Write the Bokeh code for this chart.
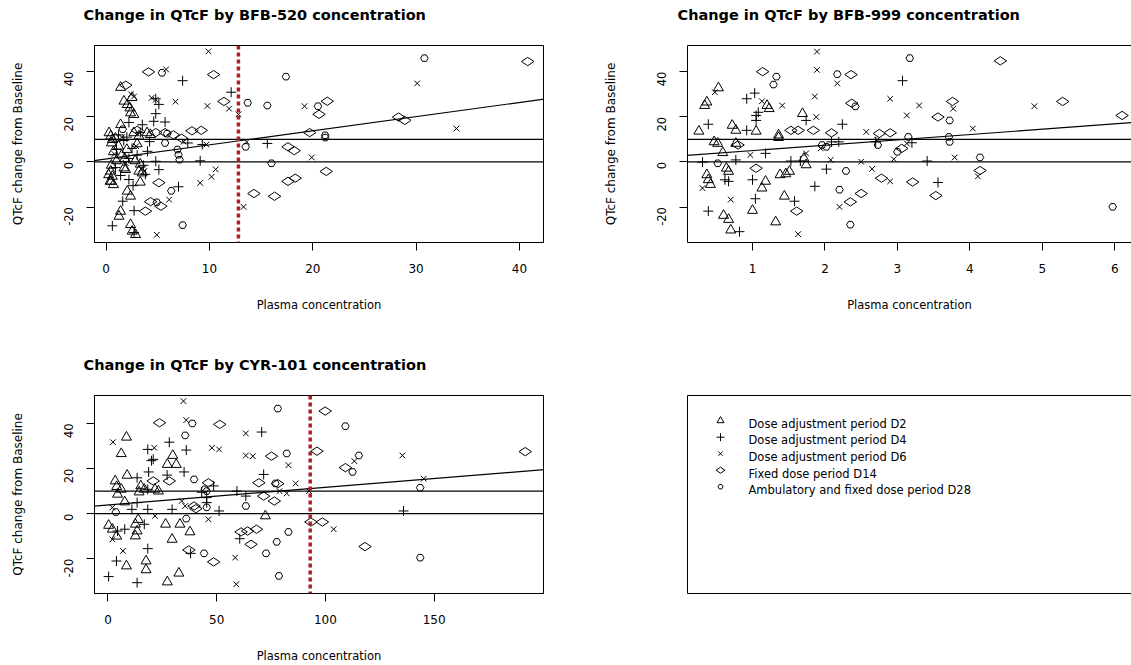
import math
from bokeh.plotting import figure
from bokeh.layouts import row, column
from bokeh.models import Span, Slope, FixedTicker, LinearAxis, Range1d
from bokeh.core.properties import value
from bokeh.embed import file_html
from bokeh.resources import INLINE

# ---------------- data ----------------
SERIES = ["Dose adjustment period D2", "Dose adjustment period D4", "Dose adjustment period D6",
          "Fixed dose period D14", "Ambulatory and fixed dose period D28"]

TITLES = ["Change in QTcF by BFB-520 concentration",
          "Change in QTcF by BFB-999 concentration",
          "Change in QTcF by CYR-101 concentration"]
X_LABEL = "Plasma concentration"
Y_LABEL = "QTcF change from Baseline"

Y_TICKS = [-20, 0, 20, 40]
BFB520_X_TICKS = [0, 10, 20, 30, 40]
BFB999_X_TICKS = [1, 2, 3, 4, 5, 6]
CYR101_X_TICKS = [0, 50, 100, 150]

REF_LINES = [0, 10]
BFB520_FIT = [1.31, 0.626]      # intercept, slope
BFB999_FIT = [2.66, 2.37]
CYR101_FIT = [3.88, 0.078]
BFB520_THRESHOLD = 12.8
CYR101_THRESHOLD = 93.0

BFB520_D2 = [(1.4, 33), (1.72, 26.9), (2.04, 25.4), (2.3, 23.9), (2.36, 21.7), (2.68, 21.0), (2.5, 28.5),
             (1.4, 16.5), (0.28, 12.9), (0.44, 11.4), (0.6, 9.9), (0.51, 8.4), (2.68, 12.9), (3.16, 11.4),
             (3.96, 12.9), (4.28, 12.1), (0.9, 10.5), (1.2, 7.0), (1.5, 3.0), (0.7, 4.5), (2.0, 5.5),
             (1.0, 0.5), (3.0, 8.0), (3.3, -1.0), (1.8, 1.5), (0.5, -1.5), (2.8, 0.5), (0.44, -4.1),
             (0.6, -6.4), (0.38, -8.6), (0.24, -5.7), (0.49, -8.6), (0.7, -10.1), (1.72, -2.7), (1.88, -3.4),
             (3.16, -4.1), (3.48, -4.9), (3.3, -9.0), (2.04, -13.0), (2.36, -15.2), (1.24, -24.1),
             (1.4, -21.9), (2.36, -27.8), (2.52, -30.7), (2.84, -32.2)]
BFB520_D4 = [(7.4, 36), (4.8, 28), (5.1, 25.5), (4.8, 21.4), (4.6, 18), (5.7, 17.7), (3.5, 16.5),
             (12.1, 30.9), (15.6, 8.2), (9.1, 0.5), (4.8, 0.3), (4.0, 4.7), (2.2, -7.8), (5.1, -3.4),
             (7.0, -11), (1.6, -17.4), (2.7, -21.6), (0.6, -28.3), (2.7, -31.3), (1.2, 12), (1.7, 9.5),
             (2.5, 6), (3.0, 3), (1.0, 5.5), (2.2, 1.5), (3.6, -1.5), (4.2, 9), (1.4, -6), (2.6, -10.5),
             (3.8, -5.5), (0.9, -2.5), (7.9, 8.4), (9.3, 7.7), (2.0, 11), (3.3, 13), (2.2, 17.5)]
BFB520_D6 = [(9.9, 49), (5.8, 41), (2.4, 30), (2.7, 29), (4.4, 28.4), (4.8, 27.6), (6.7, 26.7), (9.8, 24.8),
             (11.9, 23.6), (12.8, 21.1), (19.2, 24.7), (30.1, 34.8), (33.9, 14.8), (13.6, 8.9), (19.9, 2.0),
             (7.5, 9), (9.7, 7.7), (9.1, -9.3), (10.2, -6.6), (10.6, -3.3), (6.1, -16.7), (4.9, -32.3),
             (13.3, -19.9), (1.5, 11), (2.9, 7), (0.8, 3.5), (3.4, -3), (1.9, -0.5), (3.7, -4)]
BFB520_D14 = [(4.1, 39.9), (10.4, 38.7), (1.9, 34), (11.4, 26.8), (8.3, 13.8), (9.2, 14), (4.8, 13), (5.7, 13),
              (20.6, 21.1), (21.4, 26.9), (19.7, 13), (28.3, 19.9), (28.9, 18.4), (17.6, 6.7), (18.2, 5),
              (21.3, -4.2), (18.3, -7.2), (17.6, -8.6), (14.3, -14), (16.3, -15.2), (5.1, -9.2), (3.8, -21.8),
              (4.3, -17.6), (5.3, -19.6), (40.8, 44.5), (3.0, 14), (6.5, 12), (7.3, 10.5)]
BFB520_D28 = [(5.4, 39.5), (13.7, 26.2), (15.6, 25), (17.4, 37.8), (20.5, 24.7), (21.2, 11.8), (21.2, 10.8),
              (30.8, 46), (13.5, 6.7), (16.0, -0.6), (5.7, 8.4), (6.9, 5.5), (7.0, 3.2), (7.1, 1),
              (6.3, -12.8), (4.9, -17.9), (7.4, -28), (5.9, 12.5), (1.6, 14.5)]

BFB999_D2 = [(0.53, 32.8), (0.37, 26.5), (0.34, 25), (0.26, 13.6), (1.2, 25), (1.23, 23.6), (1.69, 21.4),
             (0.72, 16.2), (0.77, 14), (1.05, 13.6), (1.36, 11.9), (1.36, 10.8), (0.47, 8.9), (0.52, 8.2),
             (0.77, 8.2), (0.59, 4.1), (1.71, 1.6), (0.64, -2.8), (0.67, -4.2), (0.37, -5.7), (0.39, -7.9),
             (0.42, -10), (1.18, -8.6), (1.13, -11.6), (1.38, -5.7), (1.46, -5.3), (1.51, -4.2), (1.74, -1.3),
             (1.44, -15.2), (1.0, -21.5), (0.6, -23.7), (0.67, -25.5), (1.32, -26.6), (0.7, -30.2)]
BFB999_D4 = [(3.07, 36), (1.03, 30.5), (0.92, 28), (1.08, 22), (1.05, 20.6), (1.05, 18.4), (1.74, 18.4),
             (0.39, 16.7), (2.24, 16.7), (0.92, 14), (2.09, 8.9), (2.19, 8.9), (2.7, 8.9), (1.18, 3.8),
             (0.77, 0.9), (0.31, -0.1), (0.62, -7.9), (0.67, -8.6), (1.0, -7.9), (1.53, 0.4), (1.66, 0.4),
             (2.02, -3.2), (3.41, 0.4), (3.56, -9.1), (1.86, -10.8), (1.58, -17.4), (1.04, -16.3),
             (0.39, -21.8), (0.82, -30.9), (3.2, 8.5)]
BFB999_D6 = [(1.89, 48.9), (1.89, 40.8), (2.17, 34.8), (0.48, 30.9), (1.13, 26.9), (1.41, 25), (1.88, 19.9),
             (1.86, 29), (2.57, 13.3), (3.77, 23.6), (3.30, 25), (2.9, 28), (4.89, 24.7), (4.04, 14.8),
             (3.13, 20.6), (1.94, 6), (2.72, 9.8), (3.13, 8.2), (0.97, 3.1), (1.74, 3.8), (2.08, 0.9),
             (2.5, 0.1), (2.65, -3.1), (2.9, -8.6), (2.95, 1.2), (3.79, 2.0), (4.11, -6.4), (2.2, -19.9),
             (0.7, -16.7), (0.31, -11.6), (1.63, -32)]
BFB999_D14 = [(1.14, 40), (2.36, 38.7), (4.42, 44.8), (1.53, 14), (1.63, 14), (1.84, 14), (2.09, 12.9),
              (2.75, 12.6), (2.9, 12.9), (0.8, 7.5), (3.76, 26.8), (3.56, 19.9), (5.28, 26.8), (3.06, 6.0),
              (1.05, -2.8), (2.78, -7.2), (3.21, -8.9), (4.14, -3.8), (3.53, -14.9), (2.5, -14), (2.35, -17.7),
              (1.61, -21.8), (6.1, 20.6), (2.37, 26)]
BFB999_D28 = [(1.33, 37.8), (1.29, 34.3), (2.17, 38.9), (3.17, 46), (3.15, 11.1), (3.71, 11.1), (3.72, 8.9),
              (3.72, 18.4), (2.42, 24.6), (1.96, 7.5), (2.02, 6.7), (2.73, 7.5), (3.0, 4.5), (0.52, -0.6),
              (2.29, -4), (4.14, 2.0), (2.2, -12.3), (2.35, -27.8), (5.97, -19.9)]

CYR101_D2 = [(8.5, 33.9), (6.1, 26.6), (29.8, 25.8), (27.3, 21.8), (31.4, 21.8), (8.8, 17), (3.3, 14.5),
             (4, 12), (6.1, 10.8), (4.4, 8.6), (15.1, 12.3), (16.7, 10.8), (21.6, 10.8), (23.2, 10), (14.3, 9.6),
             (7.7, 5.2), (72.4, -1), (0.3, -5.2), (2, -6.9), (12.6, -4.7), (13.4, -7.7), (12.6, -9.9),
             (26.5, -4.7), (33.1, -4.7), (37.7, -8.1), (29.5, -11.4), (17.5, -21), (8.5, -23.2), (17.5, -24.9),
             (32.6, -26.4), (27.3, -30.3), (13.9, -2.6), (4.0, -10.0)]
CYR101_D4 = [(70.7, 36.2), (28.2, 31.7), (18.3, 28.5), (36, 28.2), (20.8, 24.1), (35, 18.5), (18.7, 18.5),
             (13.4, 15.9), (71.6, 17.4), (18.3, 10.8), (48.6, 12.3), (43.1, 9.5), (45.4, 7.1), (45.4, 4.9),
             (59.3, 10), (63.4, 7.8), (13.4, 4.9), (11, 1.9), (18.3, 1.9), (29.5, 1.9), (51.1, 1.2), (4.4, -7.7),
             (7.7, -6.9), (16.7, -4.7), (60.6, -11.1), (135.9, 1.2), (18.3, -15.5), (38, -17.6), (3.9, -21),
             (0.3, -27.9), (13.4, -30.6), (27.2, 17.1), (20.0, 23.5)]
CYR101_D6 = [(34.7, 49.9), (36, 41.5), (63.4, 35.6), (2.3, 31.7), (47.8, 29.2), (51.1, 28.5), (21.3, 29.2),
             (63.4, 25.8), (66.6, 25.5), (135.4, 25.8), (113.3, 23.3), (83, 21.5), (86.3, 13.4), (145.2, 15.5),
             (78.9, 10), (82.2, 9), (33.9, 5.6), (35.5, 3.4), (2, 2.7), (21.6, -1), (46.2, -2.5), (2, -11.4),
             (103.8, -6.9), (6.9, -16.5), (58.5, -19.5), (59, -31.3), (92.5, 10)]
CYR101_D14 = [(23.7, 40.3), (51.4, 39.6), (99.9, 45.5), (96.1, 27.7), (75.2, 25.5), (109.2, 20.4),
              (191.9, 27.5), (46.2, 13.7), (28.2, 14.5), (20.8, 14.5), (69.4, 13.7), (78.1, 13.3), (71.6, 7.8),
              (76.5, 5.6), (39.6, 3.4), (40.4, 2.2), (61.2, -8.1), (64.2, -7.7), (68.3, -6.9), (65.8, -13.6),
              (93.3, -3.7), (98.6, -3.7), (118.2, -14.6), (37.2, -16.1), (48.6, -21.4)]
CYR101_D28 = [(78.1, 46.6), (38.8, 40), (109.2, 38.8), (35.5, 34.7), (82.2, 26.7), (115.4, 25.8),
              (112.5, 18.5), (39.6, 15.2), (77, 13.4), (143.6, 11.5), (44.5, 10.8), (45.4, 10), (63.4, 3.4),
              (45.4, 2.8), (3.6, 0.7), (36, -2.2), (83, -8.1), (77.6, -12.5), (143.6, -19.5), (44.2, -17.6),
              (72.7, -17.6), (78.6, -27.6)]

# ---------------- styling ----------------
FONT = "DejaVu Sans"
RED = "#B01E24"
MARKERS = [("triangle", 10, 0.0), ("cross", 10, 0.0), ("x", 8, 0.0), ("diamond", 12.5, math.pi / 2), ("hex", 7.5, 0.0)]
LEGEND_SIZES = [7, 8, 6, 9, 5]
TITLE_H = 30


def style_axis(ax, ticks, label, vertical=False):
    ax.ticker = FixedTicker(ticks=ticks)
    ax.major_label_overrides = {t: str(t) for t in ticks}
    ax.minor_tick_line_color = None
    ax.major_tick_in = 0
    ax.major_tick_out = 8
    ax.axis_line_color = "black"
    ax.major_tick_line_color = "black"
    ax.major_label_text_font = FONT
    ax.major_label_text_color = "black"
    ax.axis_label = label
    ax.axis_label_text_font = FONT
    ax.axis_label_text_font_style = "normal"
    ax.axis_label_text_color = "black"
    if vertical:
        ax.major_label_orientation = math.pi / 2
        ax.major_label_text_font_size = "11.5px"
        ax.major_label_standoff = 18
        ax.axis_label_text_font_size = "12px"
        ax.axis_label_standoff = 32
    else:
        ax.major_label_text_font_size = "12px"
        ax.major_label_standoff = 13
        ax.axis_label_text_font_size = "11.5px"
        ax.axis_label_standoff = 22


def blank_axis(p, side):
    ax = LinearAxis(ticker=FixedTicker(ticks=[]), major_tick_out=0, major_tick_in=0,
                    minor_tick_line_color=None, axis_line_color="black", major_label_text_font_size="0px")
    p.add_layout(ax, side)


def title_strip(text, width, text_x):
    t = figure(width=width, height=TITLE_H, x_range=Range1d(0, width), y_range=Range1d(TITLE_H, 0),
               output_backend="svg", toolbar_location=None, x_axis_location=None, y_axis_location=None,
               min_border=0)
    t.grid.visible = False
    t.outline_line_color = None
    t.text(x=[text_x], y=[14.5], text=[text], text_font=value(FONT), text_font_style="bold",
           text_font_size="14.5px", text_color="black", text_baseline="alphabetic", text_align="left")
    return t


def make_panel(data, xticks, xr, yr, fit, threshold, width, height, borders, cut_right=False):
    left, right, top, bottom = borders
    p = figure(width=width, height=height, x_range=Range1d(*xr), y_range=Range1d(*yr),
               output_backend="svg", toolbar_location=None, min_border_left=left, min_border_right=right,
               min_border_top=top, min_border_bottom=bottom)
    p.grid.visible = False
    p.background_fill_color = "white"
    p.border_fill_color = "white"
    p.outline_line_color = None if cut_right else "black"
    p.outline_line_width = 1
    style_axis(p.xaxis[0], xticks, X_LABEL)
    style_axis(p.yaxis[0], Y_TICKS, Y_LABEL, vertical=True)
    if cut_right:
        blank_axis(p, "above")

    for loc in REF_LINES:
        p.add_layout(Span(location=loc, dimension="width", line_color="black", line_width=1.2))
    p.add_layout(Slope(y_intercept=fit[0], gradient=fit[1], line_color="black", line_width=1.2))
    if threshold is not None:
        p.add_layout(Span(location=threshold, dimension="height", line_color=RED, line_width=3.5,
                          line_dash="4 3"))

    for pts, (marker, size, angle) in zip(data, MARKERS):
        xs = [a for a, b in pts]
        ys = [b for a, b in pts]
        p.scatter(xs, ys, marker=marker, size=size, angle=angle, fill_color=None,
                  line_color="black", line_width=1)
    return p


t1 = title_strip(TITLES[0], 600, 83)
t2 = title_strip(TITLES[1], 531, 77)
t3 = title_strip(TITLES[2], 600, 83)

p1 = make_panel([BFB520_D2, BFB520_D4, BFB520_D6, BFB520_D14, BFB520_D28],
                BFB520_X_TICKS, (-1.13, 42.33), (-35.7, 51.6), BFB520_FIT, BFB520_THRESHOLD,
                600, 320, (94, 57, 15, 108))
p2 = make_panel([BFB999_D2, BFB999_D4, BFB999_D6, BFB999_D14, BFB999_D28],
                BFB999_X_TICKS, (0.103, 6.23), (-35.7, 51.6), BFB999_FIT, None,
                531, 320, (87, 0, 15, 108), cut_right=True)
p3 = make_panel([CYR101_D2, CYR101_D4, CYR101_D6, CYR101_D14, CYR101_D28],
                CYR101_X_TICKS, (-6.2, 200.3), (-35.4, 52.4), CYR101_FIT, CYR101_THRESHOLD,
                600, 285, (94, 57, 15, 72))

# legend panel
FW, FH = 444, 199
p4 = figure(width=531, height=285, x_range=Range1d(0, FW), y_range=Range1d(FH, 0),
            output_backend="svg", toolbar_location=None, min_border_left=87, min_border_right=0,
            min_border_top=14, min_border_bottom=72, x_axis_location=None, y_axis_location=None)
p4.grid.visible = False
p4.outline_line_color = None
for side in ("left", "above", "below"):
    blank_axis(p4, side)
n = len(SERIES)
for i, ((marker, size, angle), lsize) in enumerate(zip(MARKERS, LEGEND_SIZES)):
    p4.scatter([33], [25.3 + 16.6 * i], marker=marker, size=lsize, angle=angle, fill_color=None,
               line_color="black", line_width=1)
p4.text(x=[61] * n, y=[28.3 + 16.7 * i for i in range(n)], text=SERIES, text_font=value(FONT),
        text_font_size="11.5px", text_baseline="middle", text_align="left", text_color="black")

layout = column(row(t1, t2), row(p1, p2), row(t3), row(p3, p4))
open("out.html", "w").write(file_html(layout, INLINE))
